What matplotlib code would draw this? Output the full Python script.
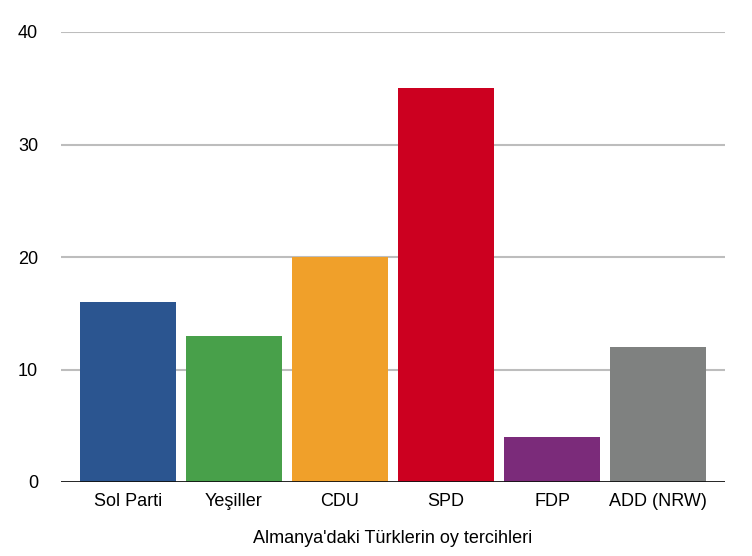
import matplotlib
matplotlib.use("Agg")
import matplotlib.pyplot as plt

categories = ["Sol Parti", "Yeşiller", "CDU", "SPD", "FDP", "ADD (NRW)"]
values = [16, 13, 20, 35, 4, 12]
colors = ["#2b5590", "#48a04a", "#f0a02a", "#cc0020", "#7b2b7a", "#7f8180"]
yticks = [0, 10, 20, 30, 40]
xlabel = "Almanya'daki Türklerin oy tercihleri"

plt.rcParams['font.family'] = ['Liberation Sans', 'DejaVu Sans']

fig = plt.figure(figsize=(7.52, 5.56), dpi=100)
ax = fig.add_axes([61/752, 1-482/556, (725-61)/752, (482-32)/556])

x = list(range(len(categories)))
ax.bar(x, values, width=96/106, color=colors, zorder=3)

ax.set_ylim(0, 40)
ax.set_xlim(-0.632, 5.632)
ax.set_yticks(yticks)
ax.set_xticks(x)
ax.set_xticklabels(categories, fontsize=13)
ax.set_yticklabels([str(t) for t in yticks], fontsize=13)
ax.tick_params(axis='both', length=0)
ax.tick_params(axis='y', pad=16.5)
ax.tick_params(axis='x', pad=8)

for t in yticks[1:]:
    ax.axhline(t, color="#bdbdbd", linewidth=1.5, zorder=1)
ax.axhline(0, color="#111111", linewidth=2, zorder=4)

for s in ax.spines.values():
    s.set_visible(False)

ax.set_xlabel(xlabel, fontsize=13, labelpad=14)

fig.savefig("out.png", dpi=100)
